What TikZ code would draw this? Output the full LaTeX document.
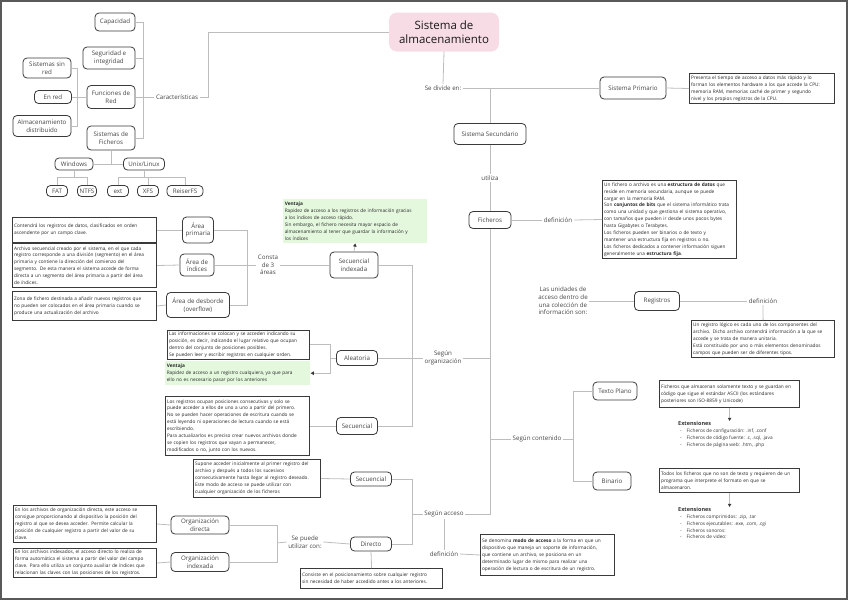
\documentclass[tikz,border=0pt]{standalone}
\usepackage{fontspec}
\setmainfont{Open Sans}
\usetikzlibrary{arrows.meta}
\definecolor{pinkfill}{HTML}{F7DCE5}
\definecolor{greenfill}{HTML}{E4F8DE}
\definecolor{linegray}{HTML}{BDBDBD}
\definecolor{boxline}{HTML}{3A3A3A}
\definecolor{txtc}{HTML}{454545}
\newcommand\smallfnt{\fontsize{4.75}{6.9}\selectfont}
\newcommand\lblfnt{\fontsize{6.2}{7.6}\selectfont}
\tikzset{
 conn/.style={draw=linegray, line width=0.8pt},
 arr/.style={draw=linegray, line width=0.8pt, -{Triangle[length=3.2pt,width=3.4pt,color=boxline]}},
 lbl/.style={draw=boxline, line width=0.8pt, rounded corners=4pt, fill=white, font=\lblfnt, text=txtc, align=center, inner sep=1pt},
 sz/.style 2 args={minimum width=#1pt, minimum height=#2pt},
 ftxt/.style={font=\lblfnt, text=txtc, align=center, inner sep=1.5pt},
 desc/.style={draw=boxline, line width=1pt, fill=white, font=\smallfnt, text=black!85, align=left, inner sep=1.6pt, anchor=north west},
 gbox/.style={fill=greenfill, font=\smallfnt, text=black!85, align=left, inner sep=1.6pt, anchor=north west},
 extlist/.style={font=\smallfnt, text=black!80, align=left, inner sep=0pt, anchor=north west},
}
\begin{document}
\begin{tikzpicture}[x=1pt,y=-1pt]
\useasboundingbox (0,0) rectangle (848,600);
\draw[black!65, line width=1.2pt] (1,1) rectangle (847,599);

% ---------- title ----------
\node[fill=pinkfill, rounded corners=8pt, sz={110}{39}, align=center, font=\fontsize{11.5}{13.5}\selectfont, text=black!90] (title) at (444,32) {Sistema de\\almacenamiento};

% ---------- left top: caracteristicas ----------
\node[lbl, sz={40}{18}] (cap) at (115,22) {Capacidad};
\node[lbl, sz={52}{22}] (seg) at (109,58) {Seguridad e\\integridad};
\node[lbl, sz={48}{20}] (ssr) at (47,68) {Sistemas sin\\red};
\node[lbl, sz={37}{13}] (enred) at (53,97) {En red};
\node[lbl, sz={48}{23}] (fred) at (111,97) {Funciones de\\Red};
\node[lbl, sz={58}{21}] (alm) at (42,126) {Almacenamiento\\distribuido};
\node[lbl, sz={48}{24}] (sfich) at (111,138) {Sistemas de\\Ficheros};
\node[lbl, sz={38}{12}] (win) at (74,164) {Windows};
\node[lbl, sz={41}{12}] (unix) at (144,164) {Unix/Linux};
\node[lbl, sz={21}{11}] (fat) at (57,191) {FAT};
\node[lbl, sz={19}{11}] (ntfs) at (87,191) {NTFS};
\node[lbl, sz={21}{11}] (ext) at (118,191) {ext};
\node[lbl, sz={21}{11}] (xfs) at (148,191) {XFS};
\node[lbl, sz={36}{11}] (reis) at (185,191) {ReiserFS};
\node[ftxt] (carac) at (177,97) {Características};
\coordinate (brC) at (143,97);
\coordinate (brF) at (77,97);

\draw[conn] (cap.east) -| (brC);
\draw[conn] (seg.east) -| (brC);
\draw[conn] (sfich.east) -| (brC);
\draw[conn] (fred.east) -- (carac.west);
\draw[conn] (carac.east) -- ++(9,0) |- (title.west);
\draw[conn] (ssr.east) -| (brF);
\draw[conn] (alm.east) -| (brF);
\draw[conn] (enred.east) -- (fred.west);
\draw[conn] (sfich.south) -- (sfich.south |- win.east);
\draw[conn] (win.east) -- (unix.west);
\draw[conn] (win.south) -- ++(0,7) coordinate (wj);
\draw[conn] (wj) -| (fat.north);
\draw[conn] (wj) -| (ntfs.north);
\draw[conn] (unix.south) -- ++(0,7) coordinate (uj);
\draw[conn] (uj) -| (ext.north);
\draw[conn] (uj) -| (xfs.north);
\draw[conn] (uj) -| (reis.north);

% ---------- main spine ----------
\node[ftxt] (sediv) at (443,88) {Se divide en:};
\node[lbl, sz={66}{22}] (sprim) at (633,88) {Sistema Primario};
\node[desc, text width=142pt, minimum height=30pt] (dprim) at (689,73) {Presenta el tiempo de acceso a datos más rápido y lo\\forman los elementos hardware a los que accede la CPU:\\memoria RAM, memorias caché de primer y segundo\\nivel y los propios registros de la CPU.};
\node[lbl, sz={72}{21}] (ssec) at (490,134) {Sistema Secundario};
\node[ftxt] (util) at (490,178) {utiliza};
\node[lbl, sz={42}{17}] (fich) at (490,220) {Ficheros};
\node[ftxt] (def1) at (558,220) {definición};
\node[desc, text width=131pt, minimum height=78pt] (dfich) at (602,180) {Un fichero o archivo es una \textbf{estructura de datos} que\\reside en memoria secundaria, aunque se puede\\cargar en la memoria RAM.\\Son \textbf{conjuntos de bits} que el sistema informático trata\\como una unidad y que gestiona el sistema operativo,\\con tamaños que pueden ir desde unos pocos bytes\\hasta Gigabytes o Terabytes.\\Los ficheros pueden ser binarios o de texto y\\mantener una estructura fija en registros o no.\\Los ficheros dedicados a contener información siguen\\generalmente una \textbf{estructura fija}.};

\draw[conn] (title.south) -- (sediv.north);
\draw[conn] (sediv.east) -- (sprim.west);
\draw[conn] (ssec.north) -- (ssec.north |- sediv.east);
\draw[conn] (sprim.east) -- (dprim.west);
\draw[conn] (ssec.south) -- (util.north);
\draw[conn] (util.south) -- (fich.north);
\draw[conn] (fich.east) -- (def1.west);
\draw[conn] (def1.east) -- (dfich.west);

% ---------- registros ----------
\node[ftxt] (unid) at (563,301) {Las unidades de\\acceso dentro de\\una colección de\\información son:};
\node[lbl, sz={45}{19}] (reg) at (657,301) {Registros};
\node[ftxt] (def2) at (763,301) {definición};
\node[desc, text width=140pt, minimum height=37pt] (dreg) at (691,320) {Un registro lógico es cada uno de los componentes del\\archivo. Dicho archivo contendrá información a la que se\\accede y se trata de manera unitaria.\\Está constituido por uno o más elementos denominados\\campos que pueden ser de diferentes tipos.};
\draw[conn] (unid.east) -- (reg.west);
\draw[conn] (reg.east) -- (def2.west);
\draw[conn] (def2.south) -- (dreg.north);

% ---------- segun organizacion ----------
\node[ftxt] (sorg) at (443,358) {Según\\organización};
\node[lbl, sz={48}{26}] (sind) at (354,265) {Secuencial\\indexada};
\node[gbox, text width=141pt, minimum height=44pt] (green1) at (283,199) {\textbf{Ventaja}\\Rapidez de acceso a los registros de información gracias\\a los índices de acceso rápido.\\Sin embargo, el fichero necesita mayor espacio de\\almacenamiento al tener que guardar la información y\\los índices};
\node[ftxt] (consta) at (268,265) {Consta\\de 3\\áreas};
\node[lbl, sz={31}{26}] (aprim) at (198,230) {Área\\primaria};
\node[lbl, sz={34}{22}] (aind) at (197,265) {Área de\\índices};
\node[lbl, sz={63}{25}] (ades) at (198,305) {Área de desborde\\(overflow)};
\node[desc, text width=141pt, minimum height=25pt] (darea1) at (12,217) {Contendrá los registros de datos, clasificados en orden\\ascendente por un campo clave.};
\node[desc, text width=141pt, minimum height=44pt] (darea2) at (12,243) {Archivo secuencial creado por el sistema, en el que cada\\registro corresponde a una división (segmento) en el área\\primaria y contiene la dirección del comienzo del\\segmento. De esta manera el sistema accede de forma\\directa a un segmento del área primaria a partir del área\\de índices.};
\node[desc, text width=141pt, minimum height=29pt] (darea3) at (12,291) {Zona de fichero destinada a añadir nuevos registros que\\no pueden ser colocados en el área primaria cuando se\\produce una actualización del archivo};
\node[lbl, sz={41}{15}] (alea) at (357,358) {Aleatoria};
\node[desc, text width=139pt, minimum height=25pt] (dalea) at (167,330) {Las informaciones se colocan y se acceden indicando su\\posición, es decir, indicando el lugar relativo que ocupan\\dentro del conjunto de posiciones posibles.\\Se pueden leer y escribir registros en cualquier orden.};
\node[gbox, text width=142pt, minimum height=24pt] (green2) at (165,361) {\textbf{Ventaja}\\Rapidez de acceso a un registro cualquiera, ya que para\\ello no es necesario pasar por los anteriores};
\node[lbl, sz={41}{17}] (secu) at (357,426) {Secuencial};
\node[desc, text width=141pt, minimum height=59pt] (dsecu) at (165,396) {Los registros ocupan posiciones consecutivas y solo se\\puede acceder a ellos de uno a uno a partir del primero.\\No se pueden hacer operaciones de escritura cuando se\\está leyendo ni operaciones de lectura cuando se está\\escribiendo.\\Para actualizarlos es preciso crear nuevos archivos donde\\se copien los registros que vayan a permanecer,\\modificados o no, junto con los nuevos.};
\coordinate (brO) at (412,358);
\coordinate (brA) at (247,265);
\coordinate (brL) at (330,358);

\draw[conn] (fich.south) |- (sorg.east);
\draw[conn] (sind.east) -| (brO);
\draw[conn] (secu.east) -| (brO);
\draw[conn] (alea.east) -- (sorg.west);
\draw[arr] (sind.north) -- (green1.south);
\draw[conn] (consta.east) -- (sind.west);
\draw[conn] (aprim.east) -| (brA);
\draw[conn] (ades.east) -| (brA);
\draw[conn] (aind.east) -- (consta.west);
\draw[conn] (darea1.east) -- (aprim.west);
\draw[conn] (darea2.east) -- (aind.west);
\draw[conn] (darea3.east) -- (ades.west);
\draw[conn] (alea.west) -- (brL);
\draw[conn] (dalea.east) -| (brL);
\draw[arr] (brL) |- (green2.east);
\draw[conn] (dsecu.east) -- (secu.west);

% ---------- segun contenido ----------
\node[ftxt] (scont) at (537,439) {Según contenido};
\node[lbl, sz={44}{18}] (tplano) at (615,391) {Texto Plano};
\node[lbl, sz={38}{18}] (bin) at (612,481) {Binario};
\node[desc, text width=137pt, minimum height=27pt] (dtplano) at (659,380) {Ficheros que almacenan solamente texto y se guardan en\\código que sigue el estándar ASCII (los estándares\\posteriores son ISO-8859 y Unicode)};
\node[desc, text width=137pt, minimum height=24pt] (dbin) at (659,468) {Todos los ficheros que no son de texto y requieren de un\\programa que interprete el formato en que se\\almacenaron.};
\node[extlist] (ext1) at (678,421) {{\fontsize{5.5}{7}\selectfont\bfseries Extensiones}\\\hspace*{2pt}-\hspace{5pt}Ficheros de configuración: .inf, .conf\\\hspace*{2pt}-\hspace{5pt}Ficheros de código fuente: .c, .sql, .java\\\hspace*{2pt}-\hspace{5pt}Ficheros de página web: .htm, .php};
\node[extlist] (ext2) at (678,507) {{\fontsize{5.5}{7}\selectfont\bfseries Extensiones}\\\hspace*{2pt}-\hspace{5pt}Ficheros comprimidos: .zip, .tar\\\hspace*{2pt}-\hspace{5pt}Ficheros ejecutables: .exe, .com, .cgi\\\hspace*{2pt}-\hspace{5pt}Ficheros sonoros:\\\hspace*{2pt}-\hspace{5pt}Ficheros de video:};
\coordinate (brT) at (573,439);
\draw[conn] (scont.west) -- (scont.west -| fich.south);
\draw[conn] (scont.east) -- (brT);
\draw[conn] (tplano.west) -| (brT);
\draw[conn] (bin.west) -| (brT);
\draw[arr] (dtplano.south) -- (dtplano.south |- ext1.north);
\draw[arr] (dbin.south) -- (dbin.south |- ext2.north);

% ---------- segun acceso ----------
\node[ftxt] (sacc) at (444,514) {Según acceso};
\node[lbl, sz={41}{14}] (secacc) at (371,479) {Secuencial};
\node[lbl, sz={41}{14}] (dir) at (371,544) {Directo};
\node[desc, text width=124pt, minimum height=38pt] (dsupone) at (193,459) {Supone acceder inicialmente al primer registro del\\archivo y después a todos los sucesivos\\consecutivamente hasta llegar al registro deseado.\\Este modo de acceso se puede utilizar con\\cualquier organización de los ficheros};
\node[ftxt] (def3) at (444,554) {definición};
\node[desc, text width=131pt, minimum height=41pt] (dsedenom) at (480,534) {Se denomina \textbf{modo de acceso} a la forma en que un\\dispositivo que maneja un soporte de información,\\que contiene un archivo, se posiciona en un\\determinado lugar de mismo para realizar una\\operación de lectura o de escritura de un registro.};
\node[ftxt] (spuede) at (305,542) {Se puede\\utilizar con:};
\node[desc, text width=139pt, minimum height=20pt] (dcons) at (300,568) {Consiste en el posicionamiento sobre cualquier registro\\sin necesidad de haber accedido antes a los anteriores.};
\node[lbl, sz={58}{18}] (odir) at (200,525) {Organización\\directa};
\node[lbl, sz={58}{19}] (oind) at (200,562) {Organización\\indexada};
\node[desc, text width=140pt, minimum height=37pt] (dodir) at (13,505) {En los archivos de organización directa, este acceso se\\consigue proporcionando al dispositivo la posición del\\registro al que se desea acceder. Permite calcular la\\posición de cualquier registro a partir del valor de su\\clave.};
\node[desc, text width=140pt, minimum height=29pt] (doind) at (13,548) {En los archivos indexados, el acceso directo lo realiza de\\forma automática el sistema a partir del valor del campo\\clave. Para ello utiliza un conjunto auxiliar de índices que\\relacionan las claves con las posiciones de los registros.};
\coordinate (brS) at (412,514);
\coordinate (brP) at (277,543);

\draw[conn] (fich.south) |- (sacc.east);
\draw[conn] (secacc.east) -| (brS);
\draw[conn] (dir.east) -| (brS);
\draw[conn] (brS) -- (sacc.west);
\draw[conn] (dsupone.east) -- (secacc.west);
\draw[conn] (sacc.south) -- (def3.north);
\draw[conn] (def3.east) -- (dsedenom.west);
\draw[conn] (spuede.east) -- (dir.west);
\draw[conn] (dir.south) -- (dcons.north);
\draw[conn] (odir.east) -| (brP);
\draw[conn] (oind.east) -| (brP);
\draw[conn] (brP) -- (spuede.west);
\draw[conn] (dodir.east) -- (odir.west);
\draw[conn] (doind.east) -- (oind.west);
\end{tikzpicture}
\end{document}
